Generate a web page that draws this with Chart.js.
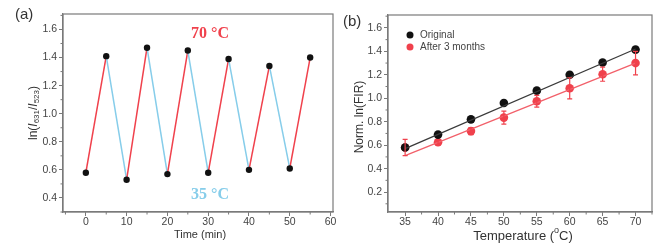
<!DOCTYPE html>
<html lang="en">
<head>
<meta charset="UTF-8">
<title>Temperature cycling and FIR</title>
<script src="https://cdn.jsdelivr.net/npm/chart.js"></script>
<style>
  body { margin: 0; background: #fff; }
  #wrap { position: relative; width: 669px; height: 248px; overflow: hidden; }
  canvas { position: absolute; top: 0; }
  #chartA { left: 0; }
  #chartB { left: 340px; }
</style>
</head>
<body>
<div id="wrap">
  <canvas id="chartA" width="340" height="248"></canvas>
  <canvas id="chartB" width="329" height="248"></canvas>
</div>
<script>
// ---- panel (a): cycling between 35 and 70 C ----
const timeMin = [0, 5, 10, 15, 20, 25, 30, 35, 40, 45, 50, 55];
const lnRatio = [0.58, 1.41, 0.53, 1.47, 0.57, 1.45, 0.58, 1.39, 0.60, 1.34, 0.61, 1.40];
const xTicksA = [0, 10, 20, 30, 40, 50, 60];
const yTicksA = [0.4, 0.6, 0.8, 1.0, 1.2, 1.4, 1.6];

// ---- panel (b): FIR vs temperature ----
const tempC = [35, 40, 45, 50, 55, 60, 65, 70];
const firOriginal = [0.58, 0.69, 0.82, 0.96, 1.065, 1.20, 1.305, 1.415];
const firAfter = [0.58, 0.625, 0.72, 0.835, 0.975, 1.085, 1.205, 1.30];
const firAfterErr = [0.07, 0.02, 0.03, 0.055, 0.05, 0.09, 0.06, 0.10];
const fitX = [35, 70];
const fitOriginal = [0.57, 1.42];
const fitAfter = [0.51, 1.30];
const seriesNames = ['Original', 'After 3 months'];
const xTicksB = [35, 40, 45, 50, 55, 60, 65, 70];
const yTicksB = [0.2, 0.4, 0.6, 0.8, 1.0, 1.2, 1.4, 1.6];

const FONT = '"Liberation Sans", Arial, sans-serif';
const AXIS = '#7a7a7a';
const RED = '#f0414c';
const BLUE = '#86cdea';

function fixTicks(list) {
  return function (scale) { scale.ticks = list.map(v => ({ value: v })); };
}

function axisOpts(min, max, ticks, size, pad) {
  return {
    type: 'linear', min: min, max: max,
    afterBuildTicks: fixTicks(ticks),
    grid: { drawOnChartArea: false, drawTicks: true, tickLength: 4, color: AXIS, lineWidth: 1 },
    border: { display: true, color: AXIS, width: 1.2 },
    ticks: { color: '#444', font: { family: FONT, size: 10.5 }, padding: pad,
             callback: v => v.toFixed(size) }
  };
}

// frame + minor ticks
const framePlugin = {
  id: 'frame',
  afterDraw(chart, args, opts) {
    const { ctx, chartArea: a, scales } = chart;
    ctx.save();
    ctx.strokeStyle = AXIS;
    ctx.lineWidth = 1.2;
    ctx.strokeRect(a.left, a.top, a.right - a.left, a.bottom - a.top);
    ctx.lineWidth = 1;
    ctx.beginPath();
    opts.xMinor.forEach(v => {
      const px = scales.x.getPixelForValue(v);
      ctx.moveTo(px, a.bottom); ctx.lineTo(px, a.bottom + 2.5);
    });
    opts.yMinor.forEach(v => {
      const py = scales.y.getPixelForValue(v);
      ctx.moveTo(a.left, py); ctx.lineTo(a.left - 2.5, py);
    });
    ctx.stroke();
    ctx.restore();
  }
};

// rich text pieces: [text, font, dy]
function drawRich(ctx, parts, cx, cy, rotate) {
  ctx.save();
  ctx.translate(cx, cy);
  if (rotate) ctx.rotate(-Math.PI / 2);
  let w = 0;
  parts.forEach(p => { ctx.font = p[1]; w += ctx.measureText(p[0]).width; });
  let x = -w / 2;
  ctx.fillStyle = '#333';
  ctx.textBaseline = 'middle';
  parts.forEach(p => {
    ctx.font = p[1];
    ctx.fillText(p[0], x, p[2]);
    x += ctx.measureText(p[0]).width;
  });
  ctx.restore();
}

const labelsA = {
  id: 'labelsA',
  afterDraw(chart) {
    const ctx = chart.ctx;
    ctx.save();
    ctx.fillStyle = '#333';
    ctx.font = '15px ' + FONT;
    ctx.textBaseline = 'middle';
    ctx.fillText('(a)', 15, 15);
    ctx.font = 'bold 16px "Liberation Serif", "DejaVu Serif", serif';
    ctx.textAlign = 'center';
    ctx.fillStyle = RED;
    ctx.fillText('70 \u00B0C', 210, 34);
    ctx.fillStyle = BLUE;
    ctx.fillText('35 \u00B0C', 210, 195);
    ctx.fillStyle = '#333';
    ctx.font = '11px ' + FONT;
    ctx.fillText('Time (min)', 200, 235);
    ctx.restore();
    const n = '12px ' + FONT, it = 'italic 12px ' + FONT, sub = '8px ' + FONT;
    drawRich(ctx, [['ln(', n, 0], ['I', it, 0], ['631', sub, 3], ['/', n, 0],
                   ['I', it, 0], ['523', sub, 3], [')', n, 0]], 34, 113, true);
  }
};

const labelsB = {
  id: 'labelsB',
  afterDraw(chart) {
    const ctx = chart.ctx;
    const a = chart.chartArea;
    ctx.save();
    ctx.fillStyle = '#333';
    ctx.font = '15px ' + FONT;
    ctx.textBaseline = 'middle';
    ctx.fillText('(b)', 3, 22);
    // legend
    const colors = ['#111', RED];
    ctx.font = '10px ' + FONT;
    seriesNames.forEach((name, i) => {
      const y = 35 + i * 12;
      ctx.fillStyle = colors[i];
      ctx.beginPath(); ctx.arc(a.left + 22, y, 3.5, 0, Math.PI * 2); ctx.fill();
      ctx.fillStyle = '#444';
      ctx.fillText(name, a.left + 32, y);
    });
    ctx.restore();
    const n = '13px ' + FONT, sup = '9px ' + FONT;
    drawRich(ctx, [['Temperature (', n, 0], ['o', sup, -5], ['C)', n, 0]], 183, 236, false);
    drawRich(ctx, [['Norm. ln(FIR)', '12px ' + FONT, 0]], 20, 117, true);
  }
};

const errorBars = {
  id: 'errorBars',
  afterDatasetsDraw(chart) {
    const { ctx, scales } = chart;
    ctx.save();
    ctx.strokeStyle = RED;
    ctx.lineWidth = 1.2;
    ctx.beginPath();
    tempC.forEach((t, i) => {
      const px = scales.x.getPixelForValue(t);
      const lo = scales.y.getPixelForValue(firAfter[i] - firAfterErr[i]);
      const hi = scales.y.getPixelForValue(firAfter[i] + firAfterErr[i]);
      ctx.moveTo(px, lo); ctx.lineTo(px, hi);
      ctx.moveTo(px - 2.5, lo); ctx.lineTo(px + 2.5, lo);
      ctx.moveTo(px - 2.5, hi); ctx.lineTo(px + 2.5, hi);
    });
    ctx.stroke();
    ctx.restore();
  }
};

new Chart(document.getElementById('chartA'), {
  type: 'line',
  data: {
    datasets: [{
      data: timeMin.map((t, i) => ({ x: t, y: lnRatio[i] })),
      borderWidth: 1.5,
      borderColor: RED,
      segment: { borderColor: c => c.p1.parsed.y > c.p0.parsed.y ? RED : BLUE },
      pointRadius: 3.2,
      pointBackgroundColor: '#111',
      pointBorderWidth: 0,
      tension: 0
    }]
  },
  options: {
    responsive: false,
    animation: false,
    layout: { padding: { top: 14, right: 7, left: 0, bottom: 0 } },
    plugins: { legend: { display: false }, tooltip: { enabled: false },
               frame: { xMinor: [-5, 5, 15, 25, 35, 45, 55], yMinor: [0.3, 0.5, 0.7, 0.9, 1.1, 1.3, 1.5, 1.7] } },
    scales: {
      x: Object.assign(axisOpts(-5.6, 60.6, xTicksA, 0, 0), { afterFit: s => { s.height = 36; } }),
      y: Object.assign(axisOpts(0.3, 1.71, yTicksA, 1, 2), { afterFit: s => { s.width = 63; } })
    }
  },
  plugins: [framePlugin, labelsA]
});

new Chart(document.getElementById('chartB'), {
  type: 'line',
  data: {
    datasets: [
      { data: fitX.map((t, i) => ({ x: t, y: fitOriginal[i] })), borderColor: '#3a3a3a', borderWidth: 1.3, pointRadius: 0 },
      { data: fitX.map((t, i) => ({ x: t, y: fitAfter[i] })), borderColor: '#f2606a', borderWidth: 1.3, pointRadius: 0 },
      { data: tempC.map((t, i) => ({ x: t, y: firOriginal[i] })), showLine: false, pointRadius: 4.3,
        pointBackgroundColor: '#111', pointBorderWidth: 0 },
      { data: tempC.map((t, i) => ({ x: t, y: firAfter[i] })), showLine: false, pointRadius: 4.3,
        pointBackgroundColor: RED, pointBorderWidth: 0 }
    ]
  },
  options: {
    responsive: false,
    animation: false,
    layout: { padding: { top: 15, right: 17, left: 0, bottom: 0 } },
    plugins: { legend: { display: false }, tooltip: { enabled: false },
               frame: { xMinor: [37.5, 42.5, 47.5, 52.5, 57.5, 62.5, 67.5, 72.5],
                        yMinor: [0.1, 0.3, 0.5, 0.7, 0.9, 1.1, 1.3, 1.5, 1.7] } },
    scales: {
      x: Object.assign(axisOpts(32.4, 72.5, xTicksB, 0, 0), { afterFit: s => { s.height = 36; } }),
      y: Object.assign(axisOpts(0.03, 1.71, yTicksB, 1, 2), { afterFit: s => { s.width = 48; } })
    }
  },
  plugins: [framePlugin, errorBars, labelsB]
});
</script>
</body>
</html>
